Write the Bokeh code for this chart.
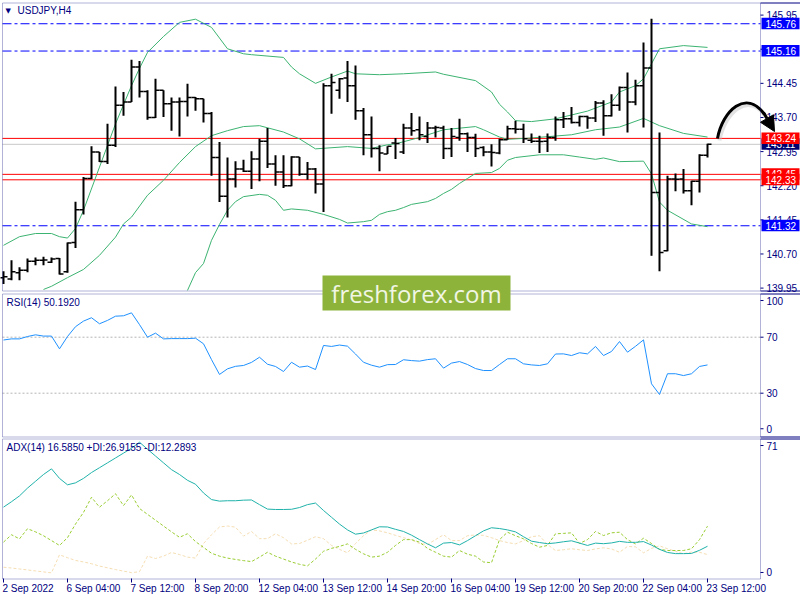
from bokeh.plotting import figure
from bokeh.models import (Range1d, Label, ColumnDataSource, BoxAnnotation, Arrow, NormalHead)
from bokeh.core.properties import value
from bokeh.embed import file_html
from bokeh.resources import INLINE

# ---------------- data ----------------
symbol = "USDJPY,H4"
time_labels = ["2 Sep 2022", "6 Sep 04:00", "7 Sep 12:00", "8 Sep 20:00",
               "12 Sep 04:00", "13 Sep 12:00", "14 Sep 20:00", "16 Sep 04:00",
               "19 Sep 12:00", "20 Sep 20:00", "22 Sep 04:00", "23 Sep 12:00"]
bars_per_label = 8

opens = [140.18, 140.15, 140.29, 140.34, 140.54, 140.56, 140.52, 140.60, 140.31, 140.95,
         141.67, 142.36, 142.94, 142.73, 143.09, 143.97, 144.04, 144.81, 144.27, 143.70,
         144.30, 144.00, 144.04, 144.05, 144.14, 144.11, 143.79, 142.82, 141.97, 142.35,
         142.57, 142.52, 142.79, 143.18, 142.68, 142.50, 142.20, 142.83, 142.45, 142.57,
         142.24, 144.40, 144.30, 144.57, 144.40, 143.85, 143.32, 143.02, 142.90, 143.14,
         142.94, 143.47, 143.43, 143.28, 143.47, 143.47, 143.02, 143.26, 143.34, 143.26,
         143.04, 142.94, 142.92, 143.21, 143.45, 143.44, 143.20, 143.18, 143.18, 143.26,
         143.65, 143.67, 143.59, 143.72, 143.69, 144.02, 143.74, 143.97, 144.36, 144.04,
         144.40, 144.79, 142.05, 140.77, 142.35, 142.35, 142.09, 142.30, 142.87]
highs = [140.32, 140.56, 140.41, 140.60, 140.62, 140.64, 140.62, 140.61, 140.95, 141.85,
         142.39, 143.07, 142.94, 143.56, 144.38, 144.26, 144.97, 144.94, 144.30, 144.55,
         144.30, 144.14, 144.14, 144.44, 144.15, 144.11, 143.82, 143.16, 142.82, 142.74,
         142.77, 142.96, 143.23, 143.47, 142.87, 142.87, 142.85, 142.83, 142.72, 142.59,
         144.45, 144.66, 144.57, 144.94, 144.84, 143.91, 143.72, 143.09, 143.07, 143.25,
         143.56, 143.80, 143.72, 143.60, 143.52, 143.52, 143.47, 143.67, 143.37, 143.34,
         143.07, 143.11, 143.23, 143.52, 143.63, 143.56, 143.35, 143.30, 143.35, 143.72,
         143.82, 143.93, 143.74, 143.74, 144.06, 144.08, 144.21, 144.38, 144.69, 144.53,
         145.35, 145.87, 143.37, 142.42, 142.47, 142.57, 142.31, 142.89, 143.12]
lows = [140.04, 140.12, 140.12, 140.30, 140.45, 140.45, 140.50, 140.25, 140.29, 140.83,
        141.57, 142.35, 142.72, 142.68, 143.05, 143.74, 144.04, 144.14, 143.65, 143.69,
        143.71, 143.41, 143.28, 143.72, 143.85, 143.59, 142.42, 141.84, 141.50, 142.16,
        142.50, 142.13, 142.30, 142.59, 142.20, 142.15, 142.19, 142.42, 142.33, 142.03,
        141.62, 143.78, 144.11, 144.04, 143.65, 142.87, 142.82, 142.52, 142.90, 142.79,
        142.90, 143.30, 143.20, 143.14, 143.26, 142.79, 142.83, 143.19, 142.94, 142.83,
        142.85, 142.62, 142.89, 143.21, 143.35, 143.14, 143.14, 142.92, 142.94, 143.19,
        143.47, 143.57, 143.50, 143.45, 143.60, 143.30, 143.72, 143.85, 143.37, 143.97,
        143.48, 140.66, 140.32, 140.76, 142.08, 142.03, 141.77, 142.05, 142.82]
closes = [140.20, 140.31, 140.34, 140.54, 140.56, 140.57, 140.59, 140.26, 140.94, 141.67,
          142.36, 142.94, 142.73, 143.09, 143.97, 144.04, 144.81, 144.27, 143.70, 144.30,
          144.00, 144.04, 144.05, 144.14, 144.11, 143.79, 142.82, 141.97, 142.35, 142.57,
          142.52, 142.79, 143.18, 142.68, 142.50, 142.20, 142.83, 142.45, 142.57, 142.24,
          144.40, 144.47, 144.55, 144.40, 143.85, 143.32, 143.02, 142.92, 143.07, 143.13,
          143.47, 143.41, 143.32, 143.47, 143.48, 143.02, 143.28, 143.34, 143.26, 143.02,
          142.94, 142.93, 143.21, 143.45, 143.44, 143.23, 143.18, 143.17, 143.26, 143.65,
          143.67, 143.59, 143.72, 143.69, 144.02, 143.74, 143.97, 144.36, 144.04, 144.40,
          144.79, 142.05, 140.73, 142.35, 142.34, 142.09, 142.30, 142.87, 143.11]

bb_upper_idx = [0, 2, 4, 6, 7, 8, 9, 10, 12, 14, 16, 17, 18, 20, 22, 24, 26, 28, 30, 31,
                35, 36, 37, 39, 41, 43, 44, 47, 50, 54, 55, 59, 61, 62, 63, 64, 66, 69, 73, 76,
                77, 79, 80, 81, 82, 85, 88]
bb_upper = [140.89, 141.08, 141.15, 141.15, 141.08, 141.05, 141.26, 141.66, 142.61, 143.56,
            144.40, 144.78, 145.13, 145.48, 145.79, 145.86, 145.68, 145.21, 145.10, 145.08,
            145.02, 144.81, 144.66, 144.45, 144.59, 144.72, 144.66, 144.64, 144.66, 144.70,
            144.65, 144.51, 144.26, 143.99, 143.82, 143.63, 143.61, 143.67, 143.84, 144.04,
            144.26, 144.40, 144.55, 144.88, 145.21, 145.28, 145.24]
bb_mid_idx = [5, 6, 8, 10, 12, 14, 15, 16, 18, 20, 22, 24, 26, 28, 30, 32, 35, 37, 39, 43,
              46, 48, 49, 52, 55, 59, 60, 62, 63, 66, 71, 74, 77, 80, 82, 85, 88]
bb_mid = [139.92, 139.99, 140.18, 140.36, 140.67, 141.07, 141.36, 141.51, 141.99, 142.32,
          142.71, 143.06, 143.30, 143.41, 143.50, 143.52, 143.38, 143.23, 143.01, 143.06,
          143.02, 143.10, 143.12, 143.26, 143.43, 143.50, 143.43, 143.27, 143.22, 143.25,
          143.32, 143.43, 143.49, 143.68, 143.52, 143.35, 143.27]
bb_low_idx = [23, 24, 25, 26, 27, 28, 29, 30, 32, 33, 34, 35, 36, 38, 40, 42, 43, 45, 46, 47,
              48, 49, 50, 51, 53, 54, 55, 56, 57, 58, 59, 61, 62, 63, 64, 67, 70, 72, 74, 75,
              77, 80, 81, 82, 83, 86, 88]
bb_lower = [139.90, 140.29, 140.49, 141.00, 141.35, 141.66, 141.85, 141.96, 142.01, 141.99,
            141.88, 141.66, 141.69, 141.66, 141.57, 141.46, 141.38, 141.41, 141.44, 141.57,
            141.63, 141.66, 141.72, 141.79, 141.85, 141.92, 142.03, 142.12, 142.25, 142.36,
            142.47, 142.49, 142.58, 142.76, 142.82, 142.88, 142.88, 142.83, 142.78, 142.81,
            142.73, 142.74, 142.46, 141.84, 141.66, 141.36, 141.30]

rsi = [68.0, 68.8, 68.8, 70.5, 71.7, 70.8, 70.8, 61.7, 70.5, 77.5,
       81.5, 83.9, 79.6, 82.0, 85.0, 85.3, 87.4, 79.0, 70.0, 72.9,
       68.8, 69.0, 69.0, 69.0, 69.3, 65.3, 54.0, 43.4, 47.4, 49.2,
       49.8, 52.0, 55.7, 50.7, 49.1, 45.5, 52.1, 48.6, 49.4, 46.9,
       64.1, 63.4, 64.4, 63.6, 58.0, 52.1, 50.0, 48.6, 50.4, 50.5,
       53.9, 53.3, 52.9, 54.0, 54.6, 47.9, 51.5, 52.6, 50.5, 47.6,
       46.2, 46.2, 50.5, 54.6, 54.6, 51.0, 50.2, 49.8, 51.0, 58.0,
       58.1, 56.9, 58.9, 58.1, 63.4, 56.9, 59.8, 66.9, 59.3, 63.5,
       68.1, 36.7, 29.1, 43.9, 43.9, 42.6, 43.9, 49.1, 50.19]
rsi_last = 50.1920
rsi_levels = [70, 30]
rsi_scale_labels = ["100", "70", "30", "0"]
rsi_scale_pos = [96.2, 70, 30, 4.6]

adx = [36.7, 39.5, 42.5, 46.5, 50.0, 53.5, 56.4, 51.5, 48.2, 49.2,
       51.5, 54.5, 57.0, 59.5, 62.0, 64.5, 67.0, 70.1, 66.5, 63.0,
       59.5, 56.0, 53.5, 50.5, 48.5, 44.0, 40.6, 39.8, 40.0, 40.0,
       40.3, 40.4, 38.0, 35.7, 35.5, 35.5, 35.6, 36.5, 38.0, 38.8,
       35.0, 31.5, 28.0, 25.0, 22.8, 23.4, 25.0, 26.6, 26.5, 25.3,
       24.2, 22.3, 20.0, 17.8, 15.8, 18.2, 18.5, 17.3, 19.5, 22.0,
       24.5, 26.1, 25.7, 25.0, 24.0, 21.5, 19.2, 18.5, 17.9, 18.3,
       18.9, 19.4, 18.2, 17.0, 18.2, 17.9, 18.3, 19.1, 18.6, 18.6,
       19.0, 17.2, 15.0, 13.4, 12.8, 12.8, 12.9, 14.5, 16.59]
pdi = [18.7, 22.5, 20.4, 25.6, 24.0, 22.0, 19.5, 17.0, 21.0, 28.0,
       34.0, 41.8, 36.7, 40.0, 43.6, 37.5, 43.0, 36.0, 33.0, 30.0,
       27.0, 24.0, 21.2, 23.0, 19.0, 16.0, 13.0, 11.5, 10.5, 9.8,
       9.2, 8.7, 11.0, 13.5, 11.5, 10.0, 8.5, 7.3, 6.5, 10.0,
       14.0, 15.5, 16.5, 17.8, 15.0, 12.7, 11.0, 11.5, 13.5, 17.0,
       20.0, 20.0, 18.7, 15.5, 13.5, 11.5, 11.0, 14.4, 12.5, 11.5,
       8.5, 8.1, 20.0, 23.8, 22.0, 20.4, 18.0, 16.1, 17.0, 23.0,
       23.2, 23.5, 18.0, 20.0, 24.2, 22.1, 23.5, 23.8, 20.0, 17.8,
       20.7, 18.0, 15.0, 14.4, 14.4, 14.4, 15.3, 20.0, 26.92]
mdi = [5.8, 5.4, 4.9, 4.4, 3.9, 3.4, 2.9, 12.2, 10.7, 9.3,
       8.5, 7.6, 6.4, 5.5, 4.6, 3.8, 3.0, 3.5, 11.5, 10.3,
       11.5, 13.4, 12.3, 11.0, 10.5, 18.0, 22.5, 26.5, 27.0, 26.4,
       21.8, 24.2, 20.5, 20.5, 23.0, 21.0, 17.8, 18.0, 19.7, 21.5,
       20.5, 17.0, 15.0, 13.2, 18.0, 22.0, 25.0, 24.5, 23.5, 22.2,
       21.0, 19.8, 18.0, 17.5, 20.0, 22.5, 19.5, 19.5, 22.0, 22.4,
       22.2, 21.0, 19.5, 18.5, 17.8, 19.5, 21.5, 22.0, 17.5, 14.4,
       14.8, 15.3, 14.8, 14.4, 15.2, 15.8, 15.2, 13.5, 16.5, 16.3,
       13.2, 15.5, 16.8, 15.3, 14.0, 12.7, 13.6, 13.5, 12.29]
adx_last, pdi_last, mdi_last = 16.5850, 26.9155, 12.2893
adx_scale_labels = ["71", "0"]
adx_scale_pos = [68.4, 3.1]

dashdot_levels = [145.76, 145.16, 141.32]
red_levels = [143.24, 142.45, 142.33]
price_ticks = [139.95, 140.70, 141.45, 142.20, 142.95, 143.70, 144.45, 145.20, 145.95]

# ---------------- layout / style ----------------
NAVY = "#000080"
FONT = "Liberation Sans"
W, H = 800, 600
FL, FT, FR, FB = 2, 2, 760, 578           # MT4 chart frame (page pixels)
MAIN_B, RSI_T, RSI_B, ADX_T = 290, 293, 436, 438

# the plot frame covers the whole canvas; 8 px per H4 bar
x_rng = Range1d(-0.375, 99.625)
y_main = Range1d(133.08407, 146.27088)
y_rsi = Range1d(-118.0714, 310.5)
y_adx = Range1d(-11.3169, 297.3251)
PX_Y = (y_main.end - y_main.start) / H      # price units per pixel


def sx(px):
    return x_rng.start + px / W * (x_rng.end - x_rng.start)


def sy(py):
    return y_main.end - py * PX_Y


p = figure(width=W, height=H, x_range=x_rng, y_range=y_main,
           output_backend="svg", toolbar_location=None,
           x_axis_type=None, y_axis_type=None,
           min_border=0, min_border_left=0, min_border_right=0,
           min_border_top=0, min_border_bottom=0,
           background_fill_color="white", border_fill_color="white",
           outline_line_color=None)
p.extra_y_ranges = {"rsi": y_rsi, "adx": y_adx}
p.grid.visible = False

xl, xr = sx(FL), sx(FR)

# ---- panel frames ----
for top, bot in ((FT, MAIN_B), (RSI_T, RSI_B), (ADX_T, FB)):
    p.add_layout(BoxAnnotation(left=xl, right=xr, top=sy(top + 0.5), bottom=sy(bot + 0.5),
                               fill_color=None, line_color=NAVY, line_width=1))
for py in (FT, MAIN_B, RSI_T, RSI_B, ADX_T):
    p.segment(x0=xr, y0=sy(py + 0.5), x1=sx(W), y1=sy(py + 0.5),
              line_color=NAVY, line_width=1)

# ---- horizontal price levels ----
n = len(dashdot_levels)
p.segment(x0=[xl] * n, y0=dashdot_levels, x1=[xr] * n, y1=dashdot_levels,
          line_color="#0000FF", line_width=1, line_dash="9 3 3 3")
bid = closes[-1]
p.segment(x0=xl, y0=bid, x1=xr, y1=bid, line_color="#C8C8C8", line_width=1)
n = len(red_levels)
p.segment(x0=[xl] * n, y0=red_levels, x1=[xr] * n, y1=red_levels,
          line_color="#FF0000", line_width=1)

# ---- Bollinger bands ----
BB = "#3CB371"
p.line(bb_upper_idx, bb_upper, line_color=BB, line_width=1)
p.line(bb_mid_idx, bb_mid, line_color=BB, line_width=1)
p.line(bb_low_idx, bb_lower, line_color=BB, line_width=1)

# ---- OHLC bars ----
idx = list(range(len(opens)))
src = ColumnDataSource(dict(x=idx, o=opens, h=highs, l=lows, c=closes,
                            xl=[i - 0.5 for i in idx], xr=[i + 0.5 for i in idx]))
p.segment(x0="x", y0="l", x1="x", y1="h", source=src, line_color="black", line_width=2)
p.segment(x0="xl", y0="o", x1="x", y1="o", source=src, line_color="black", line_width=1.5)
p.segment(x0="x", y0="c", x1="xr", y1="c", source=src, line_color="black", line_width=1.5)

# ---- RSI ----
n = len(rsi_levels)
p.segment(x0=[xl] * n, y0=rsi_levels, x1=[xr] * n, y1=rsi_levels, y_range_name="rsi",
          line_color="#B4B4B4", line_width=1, line_dash="2 2")
p.line(idx, rsi, y_range_name="rsi", line_color="#1E90FF", line_width=1)

# ---- ADX ----
p.line(idx, mdi, y_range_name="adx", line_color="#F5DEB3", line_width=1, line_dash="3 2")
p.line(idx, pdi, y_range_name="adx", line_color="#9ACD32", line_width=1, line_dash="3 2")
p.line(idx, adx, y_range_name="adx", line_color="#20B2AA", line_width=1)

# ---- right price scale ----
tick_x0, tick_x1, lab_x = sx(FR), sx(FR + 3), sx(FR + 6)
txt = dict(text_font=value(FONT), text_font_size=value("10px"), text_color=NAVY,
           text_baseline="middle", text_align="left")
n = len(price_ticks)
p.segment(x0=[tick_x0] * n, y0=price_ticks, x1=[tick_x1] * n, y1=price_ticks,
          line_color=NAVY, line_width=1)
p.text(x=[lab_x] * n, y=price_ticks, text=[f"{v:.2f}" for v in price_ticks], **txt)
n = len(rsi_scale_pos)
p.segment(x0=[tick_x0] * n, y0=rsi_scale_pos, x1=[tick_x1] * n, y1=rsi_scale_pos,
          y_range_name="rsi", line_color=NAVY, line_width=1)
p.text(x=[lab_x] * n, y=rsi_scale_pos, text=rsi_scale_labels, y_range_name="rsi", **txt)
n = len(adx_scale_pos)
p.segment(x0=[tick_x0] * n, y0=adx_scale_pos, x1=[tick_x1] * n, y1=adx_scale_pos,
          y_range_name="adx", line_color=NAVY, line_width=1)
p.text(x=[lab_x] * n, y=adx_scale_pos, text=adx_scale_labels, y_range_name="adx", **txt)

# ---- bottom time scale ----
tick_bars = [i * bars_per_label for i in range(len(time_labels))]
n = len(tick_bars)
p.segment(x0=tick_bars, y0=[sy(FB)] * n, x1=tick_bars, y1=[sy(FB + 4)] * n,
          line_color=NAVY, line_width=1)
p.text(x=tick_bars, y=[sy(588)] * n, text=time_labels, x_offset=-1, **txt)


# ---- highlighted price labels on the scale ----
def scale_label(v, bg):
    p.quad(left=sx(FR + 1), right=sx(W - 1), top=v + 6 * PX_Y, bottom=v - 5.5 * PX_Y,
           fill_color=bg, line_color=None)
    p.text(x=[sx(FR + 5)], y=[v], text=[f"{v:.2f}"], text_font=value(FONT),
           text_font_size=value("10px"), text_color="white",
           text_baseline="middle", text_align="left")


scale_label(dashdot_levels[0], "#0000FF")
scale_label(dashdot_levels[1], "#0000FF")
scale_label(bid, "#00006E")
scale_label(red_levels[0], "#FF0000")
scale_label(red_levels[1], "#FF0000")
scale_label(red_levels[2], "#FF0000")
scale_label(dashdot_levels[2], "#0000FF")

# ---- panel titles ----
p.add_layout(Label(x=sx(5), y=sy(10), text="\u25bc", text_font="DejaVu Sans",
                   text_font_size="7px", text_color=NAVY, text_baseline="middle"))
p.add_layout(Label(x=sx(17), y=sy(10), text=symbol, text_font=FONT,
                   text_font_size="10px", text_color=NAVY, text_baseline="middle"))
p.add_layout(Label(x=sx(6), y=sy(302), text=f"RSI(14) {rsi_last:.4f}", text_font=FONT,
                   text_font_size="10px", text_color=NAVY, text_baseline="middle"))
p.add_layout(Label(x=sx(6), y=sy(447),
                   text=f"ADX(14) {adx_last:.4f} +DI:{pdi_last:.4f} -DI:{mdi_last:.4f}",
                   text_font=FONT, text_font_size="10px", text_color=NAVY,
                   text_baseline="middle"))

# ---- watermark ----
p.add_layout(BoxAnnotation(left=sx(322), right=sx(510), top=sy(275), bottom=sy(310),
                           fill_color="#8DB33A", fill_alpha=1.0, line_color=None))
p.add_layout(Label(x=sx(416), y=sy(293), text="freshforex.com", text_font="Open Sans",
                   text_font_size="24px", text_color="#F1F6E4", text_align="center",
                   text_baseline="middle"))

# ---- forecast arrow ----
p.bezier(x0=sx(719), y0=sy(140), x1=sx(766), y1=sy(117), cx0=sx(724), cy0=sy(112),
         cx1=sx(748), cy1=sy(90), line_color="#BEBEBE", line_width=4, line_alpha=0.45)
p.bezier(x0=sx(717), y0=sy(138), x1=sx(764), y1=sy(114), cx0=sx(722), cy0=sy(110),
         cx1=sx(746), cy1=sy(88), line_color="black", line_width=3)
p.add_layout(Arrow(end=NormalHead(size=15, fill_color="black", line_color="black"),
                   x_start=sx(763), y_start=sy(112), x_end=sx(774), y_end=sy(131),
                   line_color="black", line_width=3))

open("out.html", "w").write(file_html(p, INLINE))
